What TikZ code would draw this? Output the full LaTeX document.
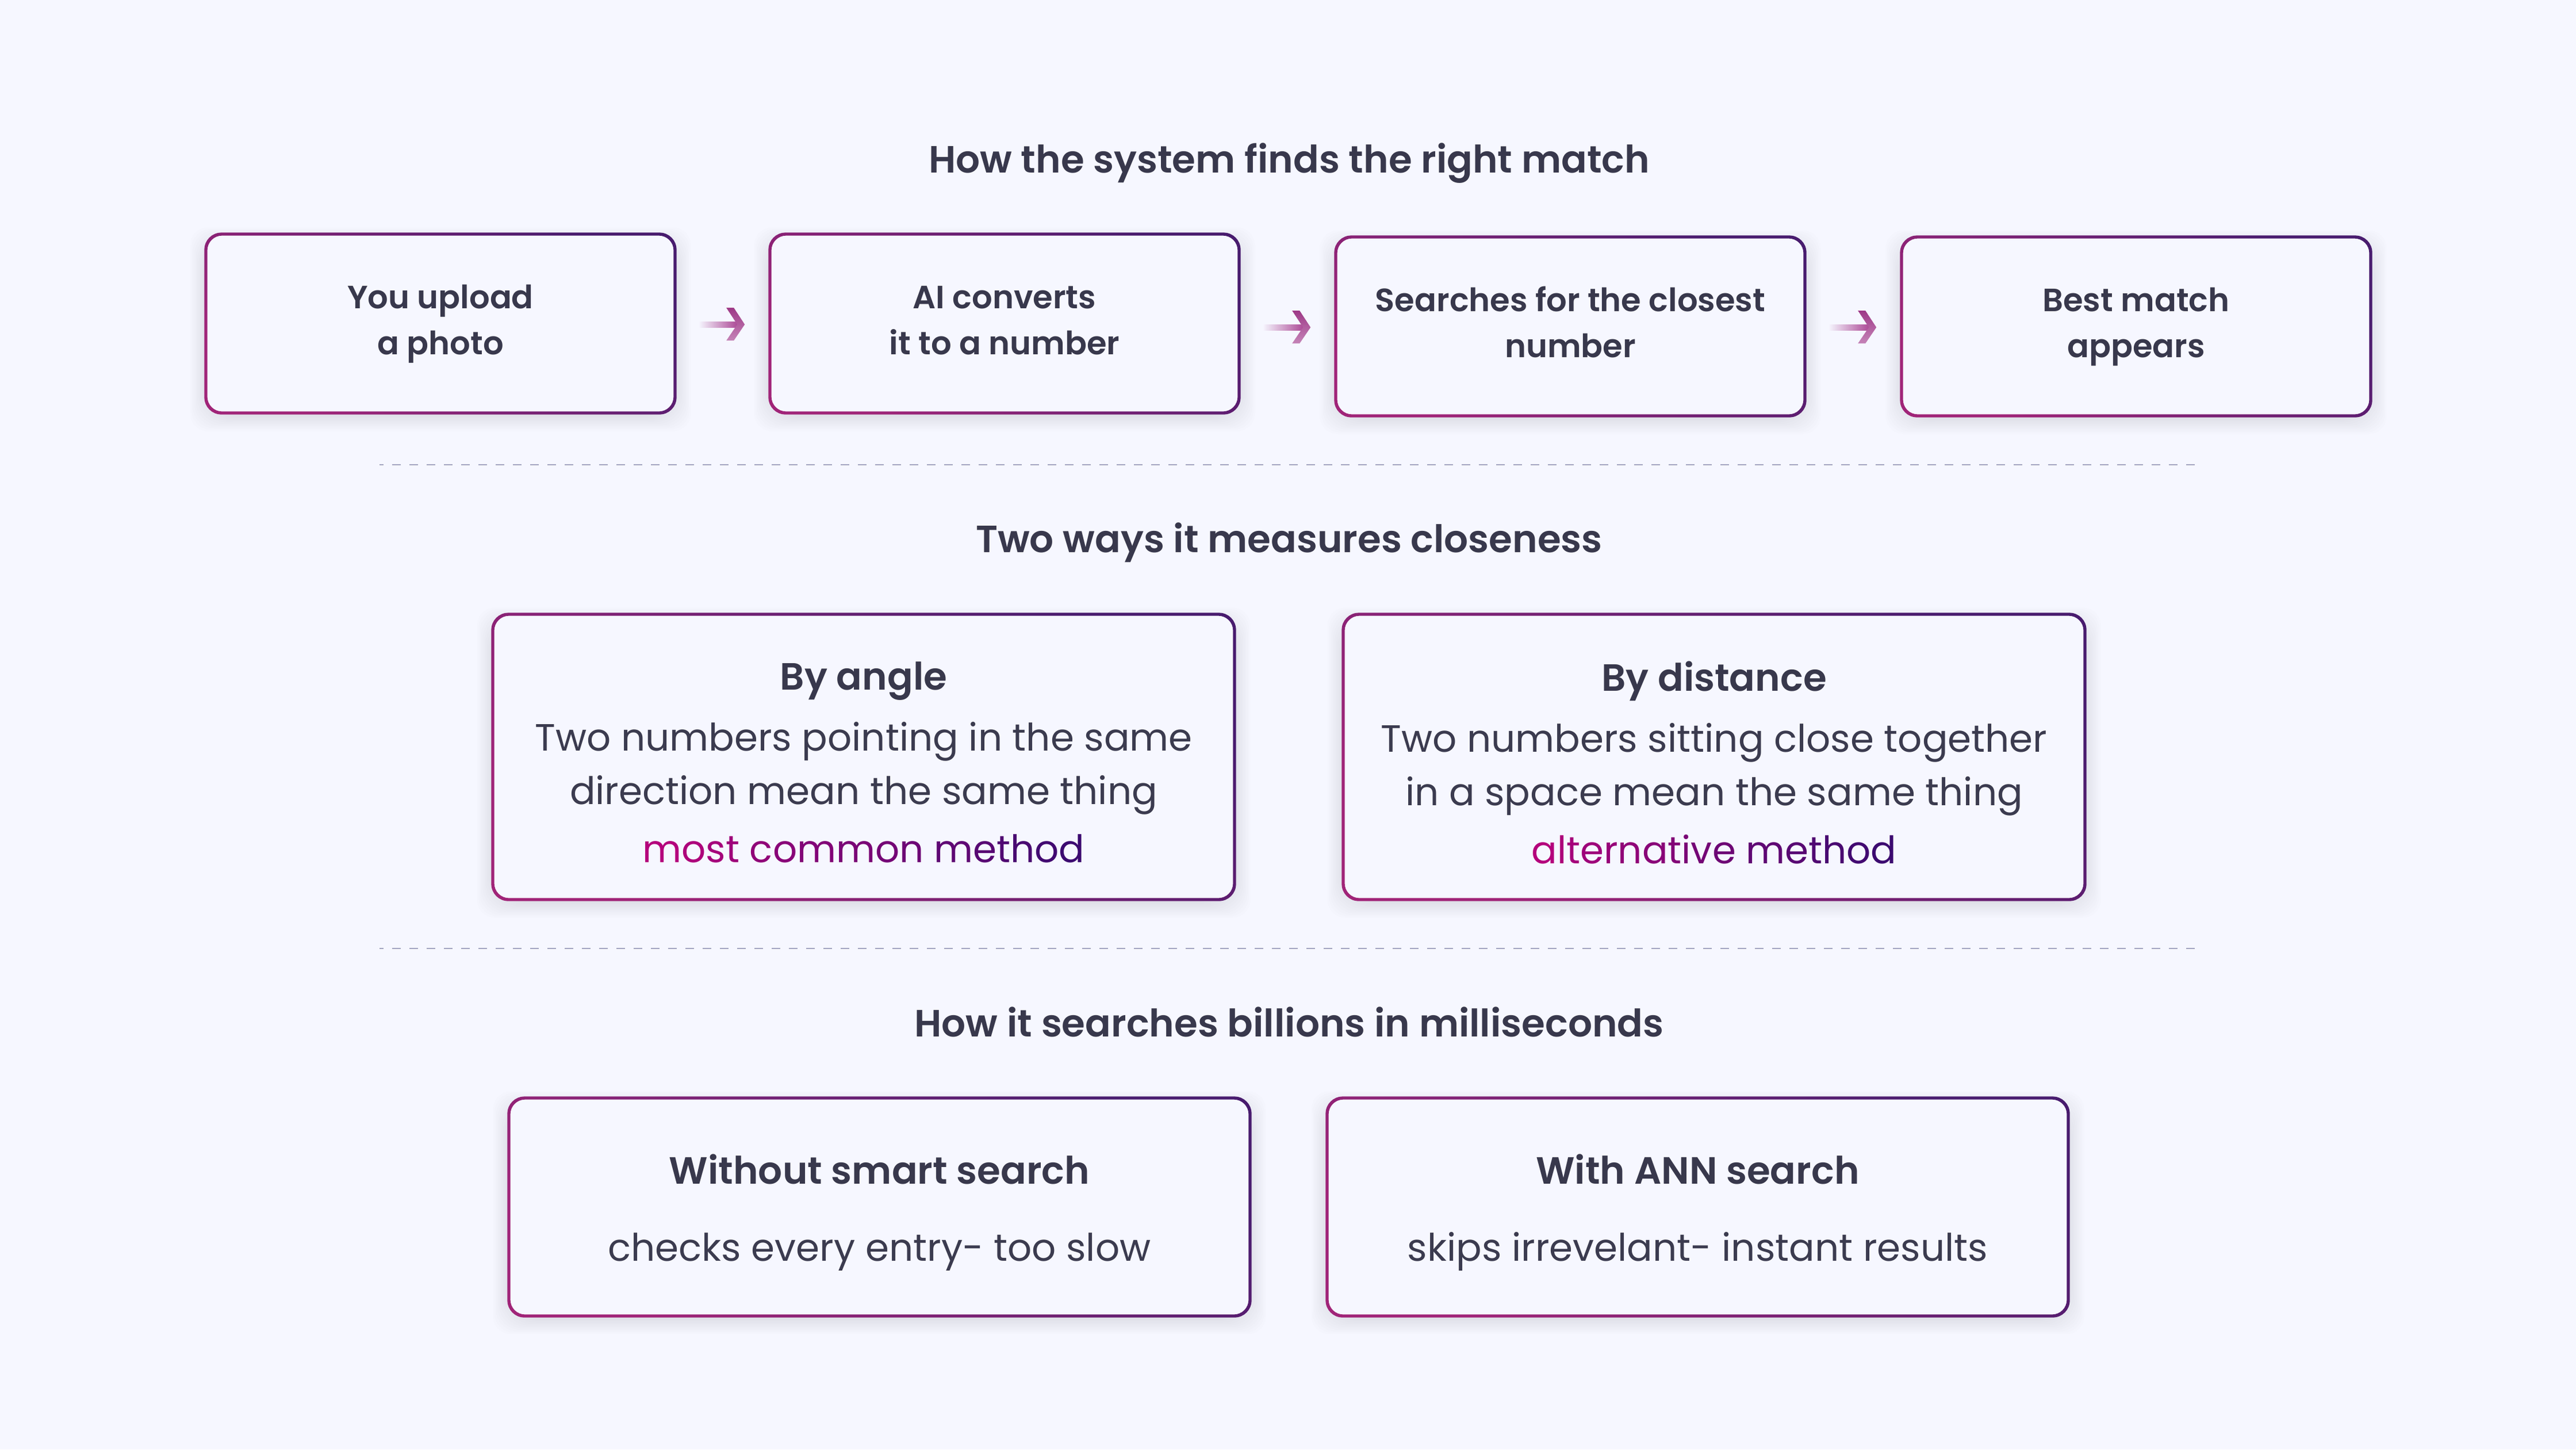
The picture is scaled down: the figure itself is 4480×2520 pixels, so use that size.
\documentclass[tikz,border=0pt]{standalone}
\usepackage{fontspec}
\usetikzlibrary{calc}
\newfontfamily\pSemi{Poppins SemiBold}
\newfontfamily\pReg{Poppins}
\definecolor{bgc}{HTML}{F6F7FF}
\definecolor{inkc}{HTML}{38384C}
\definecolor{bodyc}{HTML}{3B3B4F}
\definecolor{gradA}{HTML}{B4007C}
\definecolor{gradB}{HTML}{3C0A70}
\definecolor{ringA}{HTML}{A02478}
\definecolor{ringB}{HTML}{481B6E}
\definecolor{arrowc}{HTML}{A63C8E}
\definecolor{arrowd}{HTML}{C584B8}
\definecolor{dashc}{HTML}{A2A4C0}
\definecolor{shadowc}{HTML}{50507A}
\tikzset{
  x=.25pt,y=-.25pt,
  titletext/.style={font=\pSemi\fontsize{16.5}{23}\selectfont,text=inkc,anchor=base,inner sep=0pt},
  stepbox/.style={align=center,inner sep=0pt,text=inkc,font=\pSemi\fontsize{14}{20}\selectfont,yshift=.6pt},
  bigbox/.style={align=center,inner sep=0pt,text=bodyc,font=\pReg\fontsize{16.5}{23.25}\selectfont,yshift=-2.4pt},
  sep/.style={draw=dashc,line width=.7pt,dash pattern=on 3.75pt off 3.75pt,dash phase=2pt},
}
\makeatletter
\newcount\gradcnt
\newcommand{\gradN}{18}
\newcommand{\gradword}[1]{\@tfor\gr@l:=#1\do{%
  \pgfmathtruncatemacro\gr@p{100-100*\gradcnt/(\gradN-1)}%
  \textcolor{gradA!\gr@p!gradB}{\gr@l}\global\advance\gradcnt by 1 }}
\makeatother
\newcommand{\gradspace}{\global\advance\gradcnt by 1 \ }
\newcommand{\headline}[1]{{\pSemi\color{inkc}#1}}
\newcommand{\gbox}[7][]{%
  \foreach \i in {1,...,12}{
    \pgfmathsetmacro\rr{(28+\i*3)*.25}
    \fill[shadowc,opacity=.011,rounded corners=\rr pt]
      ({#3-30+\i*2.5},{#4-14+\i*2.5}) rectangle ({#5+30-\i*2.5},{#6+34-\i*2.5});
  }
  \fill[bgc,rounded corners=7pt] (#3,#4) rectangle (#5,#6);
  \path[shade,top color=ringB,bottom color=ringA,shading angle=-40,even odd rule]
    [rounded corners=7.4pt] ({#3-2.6},{#4-2.6}) rectangle ({#5+2.6},{#6+2.6})
    [rounded corners=6.4pt] ({#3+2.6},{#4+2.6}) rectangle ({#5-2.6},{#6-2.6});
  \node[minimum width={(#5-#3)*.25pt},minimum height={(#6-#4)*.25pt},#1] (#2) at ({(#3+#5)/2},{(#4+#6)/2}) {#7};
}
\newcommand{\garrow}[2]{%
  \path[shade,left color=bgc,right color=arrowc]
    ($(#1.east |- #2.west)+(40,-1)$) rectangle ($(#2.west)+(-50,9)$);
  \path[shade,top color=arrowc!95!black,bottom color=arrowd]
    ($(#2.west)+(-75,-25)$) -- ($(#2.west)+(-62,-25)$)
    -- ($(#2.west)+(-43,4)$) -- ($(#2.west)+(-62,32)$)
    -- ($(#2.west)+(-75,32)$) -- ($(#2.west)+(-56,4)$) -- cycle;
}
\begin{document}
\begin{tikzpicture}
\useasboundingbox (0,0) rectangle (4480,2520);
\fill[bgc] (0,0) rectangle (4480,2520);

\node[titletext] (t1) at (2242,300) {How the system finds the right match};
\node[titletext] (t2) at (2242,960) {Two ways it measures closeness};
\node[titletext] (t3) at (2242,1802) {How it searches billions in milliseconds};

\gbox[stepbox]{s1}{358}{407}{1174}{718}{\strut You upload\\\strut a photo}
\gbox[stepbox]{s2}{1339}{407}{2155}{718}{\strut AI converts\\\strut it to a number}
\gbox[stepbox]{s3}{2323}{412}{3139}{723}{\strut Searches for the closest\\\strut number}
\gbox[stepbox]{s4}{3307}{412}{4123}{723}{\strut Best match\\\strut appears}

\garrow{s1}{s2}
\garrow{s2}{s3}
\garrow{s3}{s4}

\coordinate (d1a) at (660,808); \coordinate (d1b) at (3820,808);
\coordinate (d2a) at (660,1649); \coordinate (d2b) at (3820,1649);
\draw[sep] (d1a) -- (d1b);
\draw[sep] (d2a) -- (d2b);

\gbox[bigbox]{m1}{857}{1068}{2147}{1564}{%
  \headline{By angle}\\[3.3pt]
  Two numbers pointing in the same\\
  direction mean the same thing\\[2pt]
  \gradcnt=0 \gradword{most}\gradspace\gradword{common}\gradspace\gradword{method}}
\gbox[bigbox]{m2}{2336}{1068}{3626}{1564}{%
  \headline{By distance}\\[3.3pt]
  Two numbers sitting close together\\
  in a space mean the same thing\\[2pt]
  \gradcnt=0 \gradword{alternative}\gradspace\gradword{method}}

\gbox[bigbox]{b1}{885}{1909}{2174}{2288}{%
  \headline{Without smart search}\\[10.25pt]
  checks every entry- too slow}
\gbox[bigbox]{b2}{2308}{1909}{3597}{2288}{%
  \headline{With ANN search}\\[10.25pt]
  skips irrevelant- instant results}
\end{tikzpicture}
\end{document}
